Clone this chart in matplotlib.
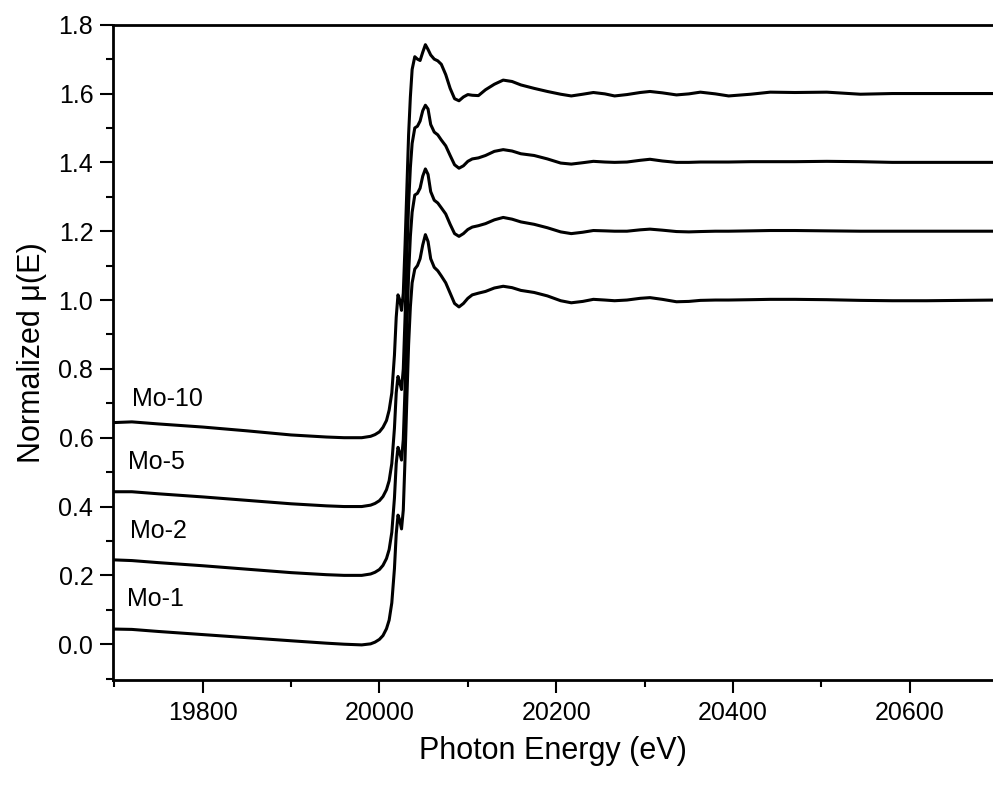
import numpy as np
import matplotlib
matplotlib.use("Agg")
import matplotlib.pyplot as plt
from matplotlib.ticker import MultipleLocator

plt.rcParams['font.family'] = ['Liberation Sans', 'DejaVu Sans']

# ---- data (normalized mu(E), before vertical offset) ----
energy = [19700, 19720, 19750, 19800, 19850, 19900, 19940, 19960, 19980, 19990,
          19995, 20000, 20004, 20008, 20011, 20014, 20017, 20019, 20021, 20023,
          20025, 20027, 20029, 20031, 20033, 20035, 20037, 20040, 20043, 20046,
          20049, 20052, 20055, 20058, 20062, 20066, 20070, 20075, 20080, 20085,
          20090, 20095, 20100, 20105, 20112, 20120, 20130, 20140, 20150, 20160,
          20175, 20190, 20205, 20217, 20230, 20242, 20255, 20266, 20280, 20295,
          20306, 20320, 20336, 20350, 20363, 20380, 20395, 20420, 20442, 20470,
          20506, 20544, 20580, 20619, 20660, 20700]

mo1 = [0.044, 0.043, 0.037, 0.028, 0.019, 0.010, 0.003, 0.000, -0.002, 0.001,
       0.006, 0.014, 0.025, 0.045, 0.070, 0.120, 0.220, 0.320, 0.375, 0.360,
       0.335, 0.390, 0.540, 0.710, 0.870, 0.980, 1.050, 1.090, 1.100, 1.120,
       1.160, 1.190, 1.170, 1.120, 1.095, 1.085, 1.070, 1.050, 1.020, 0.990,
       0.980, 0.990, 1.005, 1.015, 1.020, 1.025, 1.035, 1.040, 1.036, 1.028,
       1.022, 1.012, 0.998, 0.992, 0.996, 1.002, 1.000, 0.998, 1.000, 1.005,
       1.007, 1.002, 0.995, 0.996, 0.999, 1.000, 1.000, 1.001, 1.002, 1.002,
       1.001, 0.999, 0.998, 0.998, 0.999, 1.000]

mo2 = [0.045, 0.043, 0.037, 0.028, 0.018, 0.008, 0.002, 0.000, 0.000, 0.004,
       0.009, 0.017, 0.029, 0.049, 0.075, 0.125, 0.225, 0.325, 0.372, 0.356,
       0.335, 0.395, 0.545, 0.715, 0.875, 0.985, 1.055, 1.105, 1.110, 1.125,
       1.160, 1.181, 1.165, 1.115, 1.090, 1.082, 1.068, 1.050, 1.020, 0.993,
       0.985, 0.993, 1.005, 1.012, 1.016, 1.022, 1.033, 1.040, 1.035, 1.027,
       1.020, 1.010, 0.998, 0.993, 0.997, 1.002, 1.001, 1.000, 1.000, 1.004,
       1.006, 1.003, 0.999, 0.998, 0.999, 1.000, 1.000, 1.001, 1.002, 1.002,
       1.001, 1.000, 1.000, 1.000, 1.000, 1.000]

mo5 = [0.043, 0.043, 0.037, 0.028, 0.018, 0.008, 0.002, 0.000, 0.000, 0.004,
       0.009, 0.017, 0.029, 0.049, 0.075, 0.125, 0.228, 0.330, 0.378, 0.360,
       0.340, 0.400, 0.550, 0.720, 0.878, 0.985, 1.055, 1.100, 1.105, 1.120,
       1.150, 1.166, 1.155, 1.110, 1.088, 1.080, 1.065, 1.048, 1.020, 0.993,
       0.983, 0.990, 1.003, 1.010, 1.013, 1.020, 1.032, 1.037, 1.033, 1.025,
       1.020, 1.010, 0.998, 0.995, 0.999, 1.003, 1.001, 1.000, 1.001, 1.006,
       1.009, 1.004, 1.000, 1.000, 1.001, 1.001, 1.001, 1.002, 1.002, 1.002,
       1.003, 1.002, 1.000, 1.000, 1.000, 1.000]

mo10 = [0.044, 0.046, 0.040, 0.031, 0.020, 0.008, 0.002, 0.000, 0.000, 0.004,
        0.009, 0.017, 0.030, 0.050, 0.080, 0.130, 0.240, 0.350, 0.415, 0.400,
        0.370, 0.420, 0.560, 0.720, 0.880, 0.990, 1.070, 1.107, 1.100, 1.096,
        1.120, 1.142, 1.128, 1.112, 1.100, 1.095, 1.085, 1.055, 1.015, 0.985,
        0.979, 0.990, 0.997, 0.995, 0.994, 1.011, 1.027, 1.039, 1.035, 1.025,
        1.015, 1.006, 0.998, 0.993, 0.998, 1.003, 0.999, 0.993, 0.997, 1.003,
        1.006, 1.002, 0.996, 0.999, 1.004, 0.999, 0.993, 0.998, 1.004, 1.003,
        1.004, 0.998, 1.000, 1.000, 1.000, 1.000]

series_names = ['Mo-1', 'Mo-2', 'Mo-5', 'Mo-10']
offsets = [0.0, 0.2, 0.4, 0.6]

x_ticks = [19800, 20000, 20200, 20400, 20600]
y_ticks = [0.0, 0.2, 0.4, 0.6, 0.8, 1.0, 1.2, 1.4, 1.6, 1.8]

# ---- layout ----
W, H = 993, 787
fig = plt.figure(figsize=(W / 100, H / 100), dpi=100)
left_px, right_px, top_px, bottom_px = 113.3, 993.0, 24.7, 680.0
ax = fig.add_axes([left_px / W, 1 - bottom_px / H,
                   (right_px - left_px) / W, (bottom_px - top_px) / H])

series = [mo1, mo2, mo5, mo10]
for vals, off in zip(series, offsets):
    ax.plot(energy, np.array(vals) + off, color='black', lw=2.2,
            solid_joinstyle='round', solid_capstyle='round')

label_pos = [(19714, 0.132), (19718, 0.329), (19716, 0.530), (19720, 0.713)]
for name, (lx, ly) in zip(series_names, label_pos):
    ax.text(lx, ly, name, fontsize=18, ha='left', va='center')

ax.set_xlim(19699, 20694)
ax.set_ylim(-0.104, 1.8)

ax.set_xticks(x_ticks)
ax.set_xticklabels([str(v) for v in x_ticks])
ax.set_yticks(y_ticks)
ax.set_yticklabels([f"{v:.1f}" for v in y_ticks])
ax.xaxis.set_minor_locator(MultipleLocator(100))
ax.yaxis.set_minor_locator(MultipleLocator(0.1))

ax.tick_params(which='major', direction='out', length=9.4, width=1.5,
               labelsize=18, top=False, right=False)
ax.tick_params(which='minor', direction='out', length=5.0, width=1.5,
               top=False, right=False)
ax.tick_params(axis='x', which='major', pad=6)
ax.tick_params(axis='y', which='major', pad=5)

for side in ['left', 'bottom', 'top']:
    ax.spines[side].set_linewidth(2.0)
ax.spines['right'].set_visible(False)

ax.set_xlabel('Photon Energy (eV)', fontsize=22, labelpad=8)
ax.set_ylabel('Normalized \u03bc(E)', fontsize=22, labelpad=8)

fig.savefig('out.png', dpi=100)
